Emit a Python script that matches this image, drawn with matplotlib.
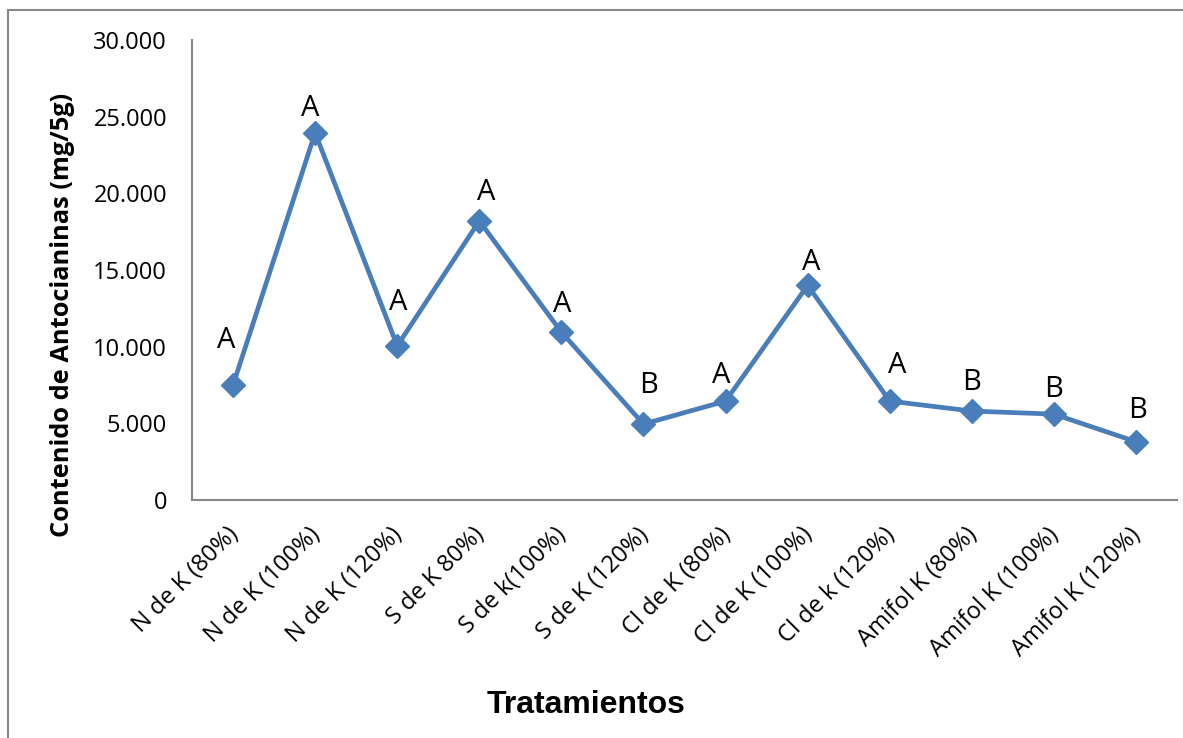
import matplotlib.pyplot as plt
from matplotlib.patches import Rectangle
from matplotlib.ticker import FuncFormatter, MultipleLocator
from matplotlib.transforms import ScaledTranslation

tratamientos = ['N de K (80%)', 'N de K (100%)', 'N de K (120%)', 'S de K 80%)',
                'S de k(100%)', 'S de K (120%)', 'Cl de K (80%)', 'Cl de K (100%)',
                'Cl de k (120%)', 'Amifol K (80%)', 'Amifol K (100%)', 'Amifol K (120%)']
antocianinas = [7500, 23950, 10050, 18200, 10950, 4950, 6450, 14000, 6450, 5800, 5600, 3800]
letras = ['A', 'A', 'A', 'A', 'A', 'B', 'A', 'A', 'A', 'B', 'B', 'B']

# letter baseline relative to its point (pixels)
offsets = [(-7, 37), (-5, 17), (1, 36), (7, 21), (1, 20), (5, 31), (-4, 18), (4, 15),
           (7, 28), (0, 21), (0, 17), (2, 24)]

line_color = '#4A7EBB'
axis_gray = '#868686'

fig = plt.figure(figsize=(11.83, 7.38), dpi=100)
ax = fig.add_axes([0.1623, 0.3225, 0.8327, 0.6233])

x = range(len(tratamientos))
ax.plot(x, antocianinas, color=line_color, linewidth=3.4, marker='D',
        markersize=12, markerfacecolor=line_color, markeredgecolor=line_color)

for i, (val, letra) in enumerate(zip(antocianinas, letras)):
    ax.annotate(letra, (i, val), xytext=offsets[i], textcoords='offset pixels',
                ha='center', va='baseline', fontsize=21, family='Open Sans')

ax.set_xlim(-0.5, len(tratamientos) - 0.5)
ax.set_ylim(0, 30000)
ax.yaxis.set_major_locator(MultipleLocator(5000))
ax.yaxis.set_major_formatter(FuncFormatter(lambda v, p: f'{v:,.0f}'.replace(',', '.')))

ax.set_xticks(list(x))
ax.set_xticklabels(tratamientos, rotation=45, ha='right', rotation_mode='anchor',
                   fontsize=17, family='Open Sans')
for lab in ax.get_yticklabels():
    lab.set_family('Open Sans')
    lab.set_fontsize(17)
ax.tick_params(axis='both', length=0)
ax.tick_params(axis='y', pad=18)
ax.tick_params(axis='x', pad=16.5)

for side in ['top', 'right']:
    ax.spines[side].set_visible(False)
for side in ['left', 'bottom']:
    ax.spines[side].set_color(axis_gray)
    ax.spines[side].set_linewidth(1.5)

ax.set_ylabel('Contenido de Antocianinas (mg/5g)', fontsize=18.3, fontweight='bold',
              family='Open Sans')
ax.yaxis.set_label_coords(-0.119, 0.402)
fig.text(0.495, 0.045, 'Tratamientos', ha='center', va='center', fontsize=23,
         fontweight='bold', family='Liberation Sans')

# chart area border
fig.patches.append(Rectangle((8 / 1183, -0.1), 1.2, 1.1 - 10 / 738,
                             transform=fig.transFigure, fill=False,
                             edgecolor=axis_gray, linewidth=1.5))

# nudge the slanted category labels a little to the left
shift = ScaledTranslation(-7 / 100, 0, fig.dpi_scale_trans)
for lab in ax.get_xticklabels():
    lab.set_transform(lab.get_transform() + shift)

fig.savefig('out.png', dpi=100, facecolor='white')
